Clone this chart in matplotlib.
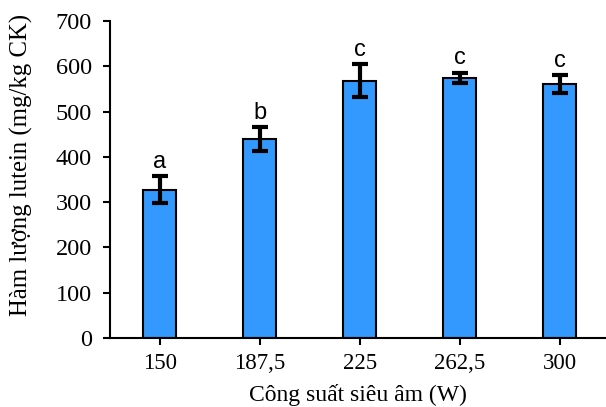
import matplotlib
matplotlib.use("Agg")
import matplotlib.pyplot as plt
import numpy as np

categories = ["150", "187,5", "225", "262,5", "300"]
values = [327, 439, 568, 575, 560]
errors = [30, 27, 36, 11, 20]
letters = ["a", "b", "c", "c", "c"]

fig = plt.figure(figsize=(6.06, 4.07), dpi=100)
ax = fig.add_axes([0.1815, 0.1695, 0.8185, 0.779])

x = np.arange(len(categories))
ax.bar(x, values, width=0.33, color="#3399ff", edgecolor="black", linewidth=1.5, zorder=2)
ax.errorbar(x, values, yerr=errors, fmt="none", ecolor="black", elinewidth=3,
            capsize=5.5, capthick=3, zorder=3)
for xi, v, e, l in zip(x, values, errors, letters):
    ax.text(xi, v + e + 18, l, ha="center", va="baseline", fontsize=17,
            family="Liberation Sans")

ax.set_xlim(-0.5, 4.46)
ax.set_ylim(0, 700)
ax.set_yticks(range(0, 701, 100))
ax.set_xticks(x)
ax.set_xticklabels(categories)
for s in ["top", "right"]:
    ax.spines[s].set_visible(False)
for s in ["left", "bottom"]:
    ax.spines[s].set_linewidth(1.5)
ax.tick_params(axis="both", direction="out", length=5, width=1.5, labelsize=16.5)
ax.tick_params(axis="y", pad=8, labelsize=17.5)
ax.tick_params(axis="x", pad=6)
for lab in ax.get_xticklabels() + ax.get_yticklabels():
    lab.set_family("Liberation Serif")
ax.set_ylabel("Hàm lượng lutein (mg/kg CK)", family="Liberation Serif", fontsize=17.8)
ax.yaxis.set_label_coords(-0.155, 0.546)
ax.set_xlabel("Công suất siêu âm (W)", family="Liberation Serif", fontsize=17)
ax.xaxis.set_label_coords(0.5, -0.146)

fig.savefig("out.png", dpi=100)
